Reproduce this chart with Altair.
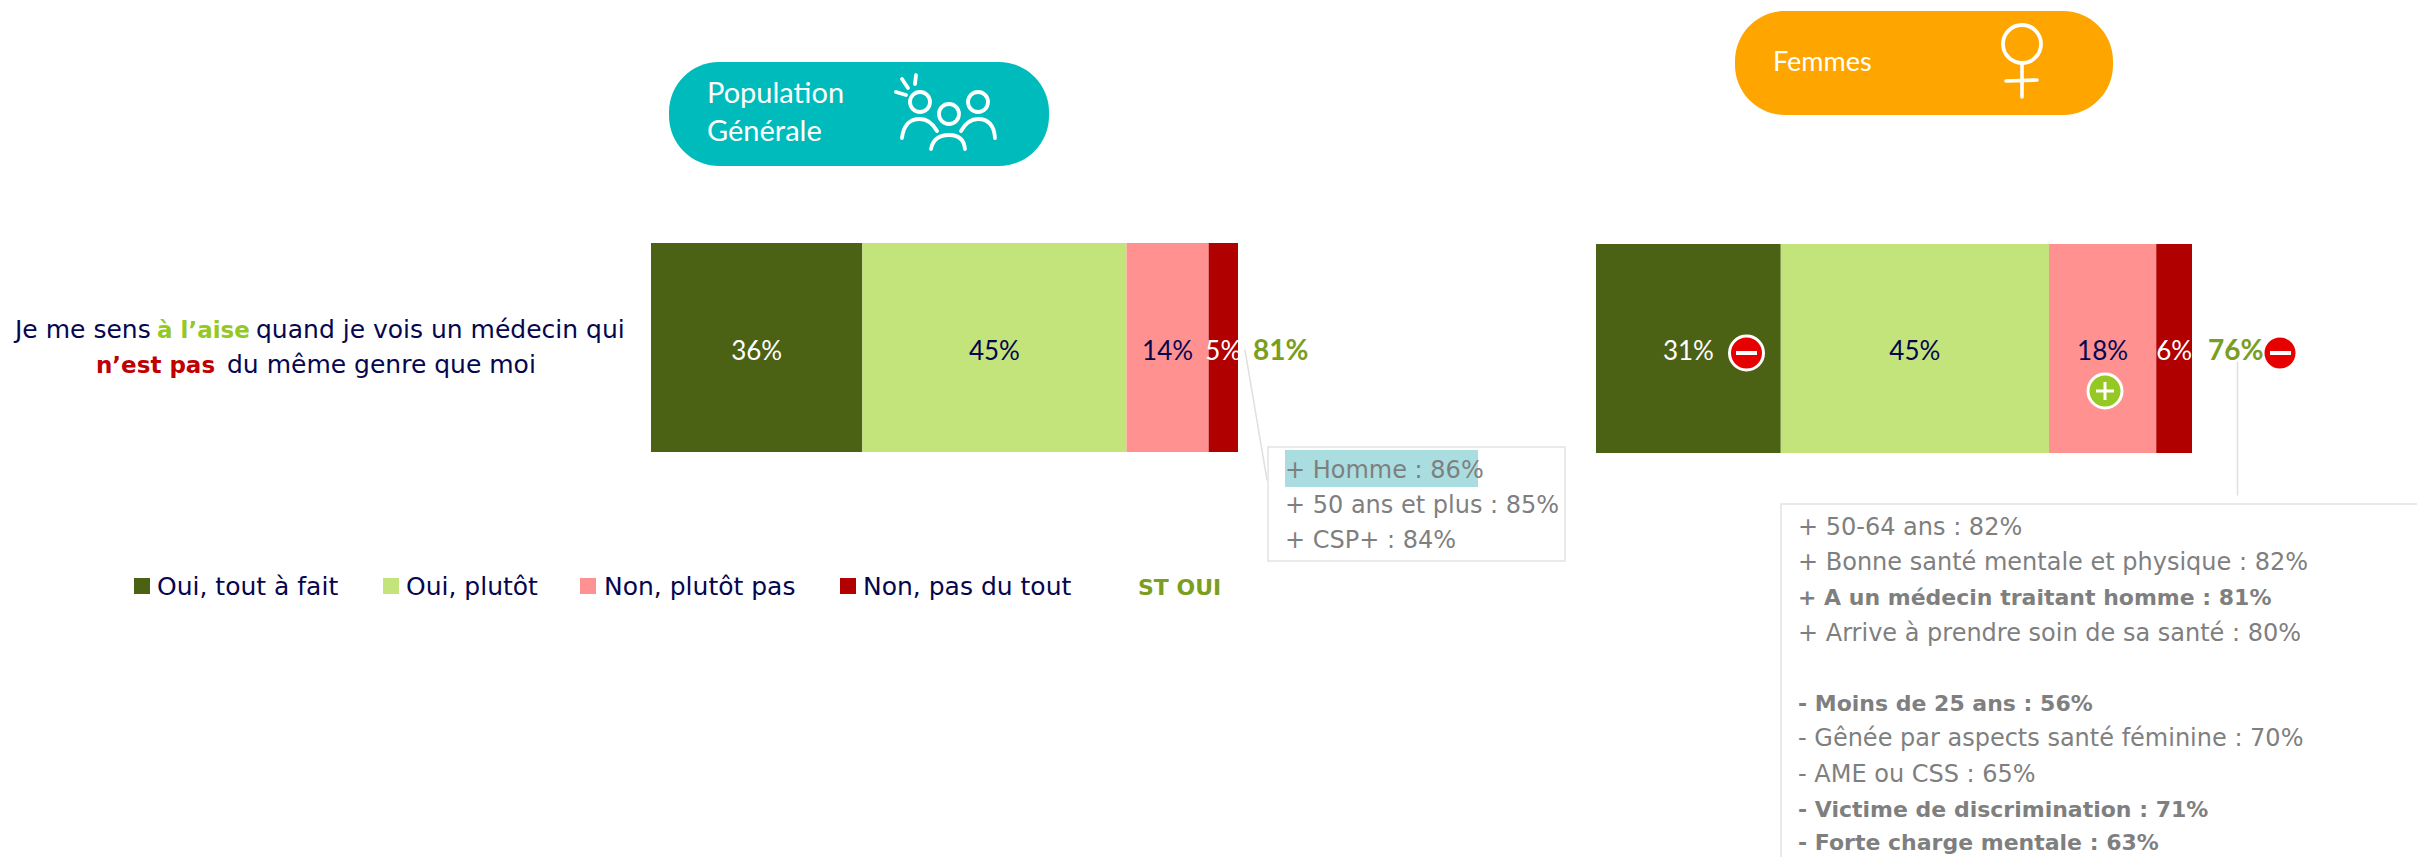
import altair as alt
import pandas as pd

categories = ["Oui, tout à fait", "Oui, plutôt", "Non, plutôt pas", "Non, pas du tout"]
general_values = [36, 45, 14, 5]
women_values = [31, 45, 18, 6]
bar_colors = ["#4b6113", "#c3e47a", "#ff9191", "#b00000"]
label_colors = ["#ffffff", "#06064f", "#06064f", "#ffffff"]
total_general = "81%"
total_women = "76%"
box_general = ["+ Homme : 86%", "+ 50 ans et plus : 85%", "+ CSP+ : 84%"]
box_women = [
    ("+ 50-64 ans : 82%", "normal"),
    ("+ Bonne santé mentale et physique : 82%", "normal"),
    ("+ A un médecin traitant homme : 81%", "bold"),
    ("+ Arrive à prendre soin de sa santé : 80%", "normal"),
    ("- Moins de 25 ans : 56%", "bold"),
    ("- Gênée par aspects santé féminine : 70%", "normal"),
    ("- AME ou CSS : 65%", "normal"),
    ("- Victime de discrimination : 71%", "bold"),
    ("- Forte charge mentale : 63%", "bold"),
]

FONT = "DejaVu Sans"
NUM = "Lato"
NAVY = "#06064f"
GREY = "#7f7f7f"
GREEN_T = "#7a9e1f"


def X(p):
    return alt.value(p - 8)


def Y(p):
    return alt.value(p - 8)


def text(x, y, s, size=24, color=NAVY, weight="normal", align="left", font=FONT):
    return alt.Chart().mark_text(
        font=font, fontSize=size, color=color, fontWeight=weight, align=align, baseline="alphabetic"
    ).encode(x=X(x), y=Y(y), text=alt.value(s))


def rect(x0, x1, y0, y1, **kw):
    return alt.Chart().mark_rect(**kw).encode(x=X(x0), x2=X(x1), y=Y(y0), y2=Y(y1))


def seg(x0, y0, x1, y1, color="#ffffff", width=3.6):
    return alt.Chart().mark_rule(color=color, strokeWidth=width, strokeCap="round").encode(
        x=X(x0), x2=X(x1), y=Y(y0), y2=Y(y1)
    )


def dot(x, y, d, fill=None, stroke=None, sw=3):
    kw = {"filled": fill is not None, "opacity": 1}
    if fill is not None:
        kw["fill"] = fill
    if stroke is not None:
        kw["stroke"] = stroke
        kw["strokeWidth"] = sw
    return alt.Chart().mark_point(shape="circle", **kw).encode(x=X(x), y=Y(y), size=alt.value(d * d))


def stacked(values, left, right, top, bottom):
    df = pd.DataFrame({"cat": categories, "v": values, "col": bar_colors, "tc": label_colors})
    df["end"] = df["v"].cumsum()
    df["start"] = df["end"] - df["v"]
    df["mid"] = (df["start"] + df["end"]) / 2
    df["label"] = df["v"].astype(str) + "%"
    scale = alt.Scale(domain=[0, 100], range=[left - 8, right - 8])
    bars = alt.Chart(df).mark_rect().encode(
        x=alt.X("start:Q", scale=scale, axis=None),
        x2="end:Q",
        y=Y(top),
        y2=Y(bottom),
        color=alt.Color("col:N", scale=None, legend=None),
    )
    labels = alt.Chart(df).mark_text(font=NUM, fontSize=26, baseline="alphabetic").encode(
        x=alt.X("mid:Q", scale=scale, axis=None),
        y=Y(360),
        text="label:N",
        color=alt.Color("tc:N", scale=None, legend=None),
    )
    return [bars, labels]


layers = []
# pills
layers.append(rect(669, 1049, 62, 166, color="#00bbbb", cornerRadius=50))
layers.append(rect(1735, 2113, 11, 115, color="#ffa500", cornerRadius=50))
layers.append(text(707, 103, "Population", 29, "#ffffff", font=NUM))
layers.append(text(707, 141, "Générale", 29, "#ffffff", font=NUM))
layers.append(text(1773, 71, "Femmes", 27, "#ffffff", font=NUM))

# people icon
cx, cy, h = 945, 110, 60


def P(x, y):
    return f"{(x - cx) / h:.3f} {(y - cy) / h:.3f}"


people = " ".join([
    f"M{P(902, 138)} C{P(904, 122)} {P(912, 119)} {P(920, 119)} C{P(928, 119)} {P(933, 124)} {P(937, 131)}",
    f"M{P(961, 131)} C{P(965, 124)} {P(970, 119)} {P(978, 119)} C{P(987, 119)} {P(994, 124)} {P(995, 138)}",
    f"M{P(931, 149)} C{P(933, 139)} {P(940, 135)} {P(949, 135)} C{P(958, 135)} {P(964, 139)} {P(965, 149)}",
    f"M{P(902, 79)} L{P(908, 88)}",
    f"M{P(916, 75)} L{P(915, 84)}",
    f"M{P(896, 92)} L{P(906, 95)}",
])
layers.append(
    alt.Chart().mark_point(shape=people, filled=False, stroke="#ffffff", strokeWidth=3.8, opacity=1, strokeCap="round").encode(
        x=X(cx), y=Y(cy), size=alt.value((2 * h) ** 2)
    )
)
layers.append(dot(920, 102, 20, stroke="#ffffff", sw=3.8))
layers.append(dot(949, 114, 20, stroke="#ffffff", sw=3.8))
layers.append(dot(978, 102, 20, stroke="#ffffff", sw=3.8))

# female icon
layers.append(dot(2022, 44, 38, stroke="#ffffff", sw=3.8))
layers.append(seg(2022, 63, 2022, 97))
layers.append(seg(2006, 81, 2037, 80))

# question
layers.append(text(15, 338, "Je me sens", 25))
layers.append(text(157, 338, "à l’aise", 23, "#95c823", "bold"))
layers.append(text(256, 338, "quand je vois un médecin qui", 25))
layers.append(text(96, 373, "n’est pas", 23, "#c00000", "bold"))
layers.append(text(227, 373, "du même genre que moi", 25))

# bars
layers += stacked(general_values, 651, 1238, 243, 452)
layers += stacked(women_values, 1596, 2192, 244, 453)
layers.append(text(1253, 360, total_general, 28, GREEN_T, "bold", font=NUM))
layers.append(text(2208, 360, total_women, 28, GREEN_T, "bold", font=NUM))

# badges
layers.append(dot(1746.5, 353, 34, fill="#e60000", stroke="#ffffff", sw=3))
layers.append(rect(1736, 1757, 351, 355, color="#ffffff"))
layers.append(dot(2105, 391, 34, fill="#95c823", stroke="#ffffff", sw=3))
layers.append(rect(2096, 2114, 389.5, 392.5, color="#ffffff"))
layers.append(rect(2103.5, 2106.5, 382, 400, color="#ffffff"))
layers.append(dot(2280, 353, 31, fill="#e60000"))
layers.append(rect(2270, 2291, 351, 355, color="#ffffff"))

# legend
legend_sq = [134, 383, 580, 840]
legend_tx = [157, 406, 604, 863]
for i, c in enumerate(categories):
    layers.append(rect(legend_sq[i], legend_sq[i] + 16, 578, 594, color=bar_colors[i]))
    layers.append(text(legend_tx[i], 595, c, 25))
layers.append(text(1138, 595, "ST OUI", 22, GREEN_T, "bold"))

# callout general
layers.append(seg(1245, 350, 1267, 480, color="#e0e0e0", width=1.5))
layers.append(rect(1268, 1565, 447, 561, fill="#ffffff", stroke="#e3e3e3", strokeWidth=1.5))
layers.append(rect(1285, 1478, 450, 487, color="#aadde0"))
for i, s in enumerate(box_general):
    layers.append(text(1285, 478 + i * 35, s, 24, GREY))

# callout women
layers.append(seg(2237.5, 362, 2237.5, 495, color="#e0e0e0", width=1.5))
layers.append(rect(1781, 2470, 504, 920, fill="#ffffff", stroke="#e3e3e3", strokeWidth=1.5))
ys = [535, 570, 605, 641, 711, 746, 782, 817, 850]
for y, (s, w) in zip(ys, box_women):
    layers.append(text(1798, y, s, 22 if w == "bold" else 24, GREY, w))

chart = alt.layer(*layers).resolve_scale(x="independent", color="independent").properties(
    width=2409, height=849, padding=0, autosize=alt.AutoSizeParams(type="none")
).configure_view(stroke=None)

chart.save("out.html", embed_options={"renderer": "svg", "actions": False})
